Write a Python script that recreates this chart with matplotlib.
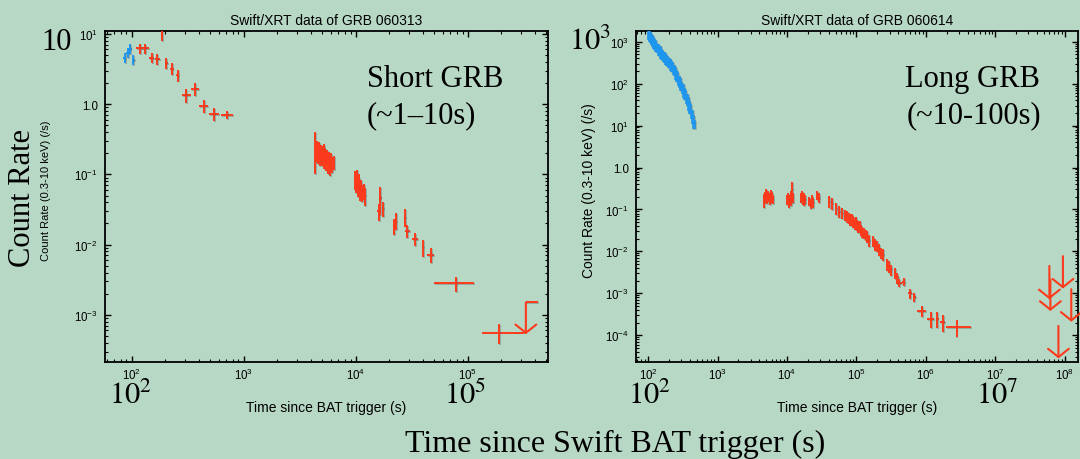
import numpy as np
import matplotlib
matplotlib.use("Agg")
import matplotlib.pyplot as plt
import matplotlib.patheffects as pe
from matplotlib.ticker import LogLocator, FuncFormatter, NullFormatter

plt.rcParams["font.family"] = ["Liberation Sans", "DejaVu Sans"]
plt.rcParams["mathtext.fontset"] = "custom"
plt.rcParams["mathtext.rm"] = "Liberation Sans"
plt.rcParams["mathtext.it"] = "Liberation Sans:italic"
plt.rcParams["mathtext.bf"] = "Liberation Sans:bold"

BG = "#b8d8c6"
RED = "#fc3a1c"
BLUE = "#1e96ee"
SERIF = ["Liberation Serif", "DejaVu Serif"]

# ---------------- GRB 060313 (short) ----------------
s_wt_t = [87, 93, 97, 104]
s_wt_terr = [3, 3, 3, 3]
s_wt_r = [4.6, 5.4, 6.1, 4.3]
s_wt_rerr = [0.8, 0.9, 1.0, 0.7]

s_pc_t = [118, 132, 151, 170, 186, 205, 229, 259, 308, 371, 442, 550, 714]
s_pc_terr = [9, 10, 7, 8, 3, 8, 8, 9, 28, 30, 40, 55, 85]
s_pc_r = [6.2, 6.2, 4.6, 4.4, 9.5, 3.9, 3.2, 2.6, 1.33, 1.65, 0.95, 0.72, 0.70]
s_pc_rerr = [1.0, 1.0, 0.8, 0.8, 1.6, 0.7, 0.6, 0.5, 0.3, 0.35, 0.2, 0.15, 0.09]

s_dense_t = [4300, 4400, 4500, 4580, 4660, 4740, 4820, 4900, 4990, 5080, 5170,
             5260, 5360, 5460, 5560, 5680, 5800, 5920, 6050, 6200, 6350,
             9800, 10000, 10200, 10400, 10600, 10800, 11000, 11250, 11500, 11800, 12100]
s_dense_terr = [50, 50, 45, 40, 40, 40, 40, 45, 45, 45, 45,
                50, 50, 50, 55, 60, 60, 60, 65, 75, 75,
                100, 100, 100, 100, 100, 100, 110, 120, 130, 150, 150]
s_dense_r = [0.25, 0.20, 0.24, 0.19, 0.22, 0.23, 0.18, 0.21, 0.17, 0.20, 0.22,
             0.16, 0.19, 0.15, 0.18, 0.14, 0.17, 0.13, 0.16, 0.14, 0.15,
             0.085, 0.075, 0.090, 0.068, 0.080, 0.072, 0.060, 0.066, 0.055, 0.058, 0.050]
s_dense_rerr = [0.15, 0.05, 0.06, 0.05, 0.06, 0.06, 0.05, 0.05, 0.04, 0.05, 0.05,
                0.04, 0.05, 0.04, 0.04, 0.04, 0.04, 0.035, 0.04, 0.035, 0.035,
                0.025, 0.02, 0.025, 0.02, 0.02, 0.02, 0.018, 0.018, 0.015, 0.015, 0.014]

s_late_t = [16000, 16600, 17500, 22000, 23000, 27500, 29000, 34000, 40000, 47000, 78000, 190000]
s_late_lo = [15600, 16200, 17100, 21500, 22500, 27000, 27300, 31800, 39000, 43500, 50000, 133000]
s_late_hi = [16400, 17000, 17900, 22500, 23500, 28000, 30800, 36200, 41000, 50500, 113000, 320000]
s_late_r = [0.030, 0.046, 0.033, 0.0185, 0.022, 0.025, 0.0158, 0.0119, 0.0091, 0.0072, 0.0028, 0.00056]
s_late_rerr = [0.008, 0.02, 0.008, 0.005, 0.006, 0.007, 0.0035, 0.0025, 0.0025, 0.0018, 0.0007, 0.00017]

s_ul_t = [3.3e5]
s_ul_thi = [4.2e5]
s_ul_top = [1.5e-3]
s_ul_tip = [5.3e-4]

# ---------------- GRB 060614 (long) ----------------
l_wt_t = [102, 106, 110, 114, 118, 122, 127, 132, 137, 142, 148, 154, 160, 167, 174,
          181, 189, 197, 205, 214, 223, 233, 243, 254, 265, 277, 289, 302, 315, 329,
          343, 358, 374, 391, 408, 426, 445, 464]
l_wt_terr = [2, 2, 2, 2, 2, 2, 3, 3, 3, 3, 3, 3, 3, 4, 4,
             4, 4, 4, 5, 5, 5, 5, 6, 6, 6, 6, 7, 7, 7, 7,
             8, 8, 8, 9, 9, 9, 10, 10]
l_wt_r = [1450, 1320, 1230, 1120, 1030, 920, 860, 750, 710, 630, 610, 530, 505, 440, 430,
          380, 365, 325, 315, 275, 255, 220, 200, 165, 150, 122, 108, 88, 77, 62,
          55, 44, 39, 30, 26, 19, 14.5, 11]
l_wt_rerr = [380, 350, 320, 290, 270, 240, 225, 195, 185, 165, 160, 140, 130, 115, 112,
             100, 95, 85, 82, 72, 66, 57, 52, 43, 39, 32, 28, 23, 20, 16,
             14, 11.5, 10, 7.8, 6.8, 5, 3.8, 2.8]

l_cl_t = [4600, 4750, 4900, 5050, 5200, 5350, 5500, 5650, 5800, 5950, 6100, 6300,
          10100, 10400, 10700, 11000, 11300, 11600, 11900, 12200,
          15800, 16300, 16800, 17300, 17800, 18400,
          21000, 22000, 23000, 24000,
          27500, 29000]
l_cl_terr = [70, 70, 70, 70, 70, 70, 70, 70, 70, 70, 80, 90,
             140, 140, 140, 140, 140, 140, 140, 140,
             230, 230, 230, 230, 250, 250,
             450, 450, 450, 450,
             600, 600]
l_cl_r = [0.17, 0.21, 0.19, 0.24, 0.18, 0.22, 0.20, 0.17, 0.23, 0.19, 0.21, 0.18,
          0.17, 0.20, 0.15, 0.18, 0.22, 0.16, 0.30, 0.19,
          0.19, 0.22, 0.17, 0.20, 0.16, 0.18,
          0.16, 0.14, 0.18, 0.15,
          0.22, 0.19]
l_cl_rerr = [0.06, 0.05, 0.05, 0.06, 0.045, 0.055, 0.05, 0.045, 0.06, 0.05, 0.05, 0.045,
             0.045, 0.05, 0.04, 0.045, 0.055, 0.04, 0.16, 0.05,
             0.05, 0.055, 0.045, 0.05, 0.04, 0.045,
             0.04, 0.035, 0.045, 0.04,
             0.055, 0.05]

l_dec_t = [3.98e4, 4.44e4, 5.07e4, 5.66e4, 6.18e4, 6.76e4, 7.4e4, 7.9e4, 8.2e4, 8.6e4,
           9.0e4, 9.4e4, 9.8e4, 1.03e5, 1.07e5, 1.12e5, 1.17e5, 1.22e5, 1.28e5, 1.37e5,
           1.43e5, 1.5e5, 1.71e5, 1.83e5, 1.95e5, 2.09e5, 2.23e5, 2.38e5, 2.72e5, 2.9e5,
           3.1e5, 3.6e5, 3.9e5, 4.1e5, 4.8e5, 5.9e5, 6.8e5]
l_dec_terr = [1400, 1500, 1800, 2000, 2200, 2400, 2600, 2800, 2900, 3000,
              3100, 3300, 3400, 3600, 3700, 3900, 4100, 4300, 4500, 4800,
              5000, 5300, 6000, 6400, 6800, 7300, 7800, 8300, 9500, 10000,
              11000, 13000, 14000, 37000, 25000, 40000, 30000]
l_dec_r = [0.158, 0.144, 0.110, 0.091, 0.083, 0.076, 0.069, 0.063, 0.058, 0.058,
           0.053, 0.048, 0.050, 0.044, 0.040, 0.040, 0.033, 0.030, 0.028, 0.025,
           0.023, 0.019, 0.0177, 0.0147, 0.0134, 0.0112, 0.0093, 0.0085, 0.0049, 0.0045,
           0.0037, 0.0031, 0.0024, 0.0018, 0.00186, 0.0010, 0.00083]
l_dec_rerr = [0.05, 0.045, 0.035, 0.028, 0.025, 0.023, 0.021, 0.019, 0.018, 0.018,
              0.016, 0.015, 0.015, 0.013, 0.012, 0.012, 0.010, 0.009, 0.0085, 0.0075,
              0.007, 0.006, 0.0053, 0.0045, 0.004, 0.0034, 0.0028, 0.0026, 0.0015, 0.0014,
              0.0011, 0.0009, 0.0007, 0.0004, 0.0004, 0.00025, 0.0002]

l_late_t = [8.7e5, 1.17e6, 1.45e6, 1.74e6, 2.76e6]
l_late_lo = [7.4e5, 1.05e6, 1.38e6, 1.6e6, 1.95e6]
l_late_hi = [1.02e6, 1.3e6, 1.52e6, 1.9e6, 4.4e6]
l_late_r = [3.8e-4, 2.5e-4, 2.5e-4, 2.1e-4, 1.6e-4]
l_late_rerr = [1.1e-4, 1.0e-4, 1.0e-4, 0.9e-4, 0.7e-4]

l_ul_t = [6.0e7, 6.2e7, 8.1e7, 9.4e7, 1.24e8]
l_ul_top = [4.5e-3, 2.1e-3, 1.67e-4, 7.7e-3, 1.25e-3]
l_ul_tip = [7.2e-4, 3.8e-4, 2.8e-5, 1.3e-3, 2.1e-4]

SHADOW = [pe.SimpleLineShadow(offset=(0.7, -0.7), shadow_color="0.35", alpha=0.35),
          pe.Normal()]


def ebar(ax, t, r, terr, rerr, color, lw=1.4):
    cont = ax.errorbar(t, r, xerr=terr, yerr=rerr, fmt="none", ecolor=color,
                       elinewidth=lw, capsize=0, zorder=3)
    for coll in cont.lines[2]:
        coll.set_path_effects(SHADOW)


def ebar_range(ax, t, lo, hi, r, rerr, color, lw=1.4):
    t = np.array(t)
    xerr = [t - np.array(lo), np.array(hi) - t]
    ebar(ax, t, r, xerr, rerr, color, lw)


def upper_limits(ax, t, top, tip, color):
    for x, y0, y1 in zip(t, top, tip):
        ax.annotate("", xy=(x, y1), xytext=(x, y0), annotation_clip=False,
                    arrowprops=dict(arrowstyle="->,head_length=0.6,head_width=0.75",
                                    color=color, lw=1.5, shrinkA=0, shrinkB=0,
                                    mutation_scale=10))


def pow_fmt(v, pos):
    n = int(round(np.log10(v)))
    if n == 0:
        return "1.0"
    return r"$10^{%d}$" % n


def style(ax, xlim, ylim, title, ylab_size, ylab_x):
    ax.set_facecolor(BG)
    ax.set_xscale("log")
    ax.set_yscale("log")
    ax.set_xlim(*xlim)
    ax.set_ylim(*ylim)
    for a in (ax.xaxis, ax.yaxis):
        a.set_major_locator(LogLocator(base=10, numticks=30))
        a.set_minor_locator(LogLocator(base=10, subs=np.arange(2, 10), numticks=300))
        a.set_major_formatter(FuncFormatter(pow_fmt))
        a.set_minor_formatter(NullFormatter())
    ax.tick_params(which="both", direction="in", top=True, right=True,
                   labelsize=8.3, colors="black")
    ax.tick_params(which="major", length=4.5, width=1.0)
    ax.tick_params(which="minor", length=2.5, width=0.8)
    ax.tick_params(axis="x", pad=3.5)
    ax.tick_params(axis="y", pad=5)
    for sp in ax.spines.values():
        sp.set_linewidth(1.3)
    ax.set_title(title, fontsize=10, pad=5)
    ax.set_xlabel("Time since BAT trigger (s)", fontsize=10)
    ax.xaxis.set_label_coords(0.5, -0.115)
    ax.set_ylabel("Count Rate (0.3-10 keV) (/s)", fontsize=ylab_size)
    ax.yaxis.set_label_coords(ylab_x, 0.52)


W, H = 1080, 460
fig = plt.figure(figsize=(W / 100, H / 100), dpi=100, facecolor=BG)

ax1 = fig.add_axes([105 / W, 1 - 363 / H, 443 / W, 331 / H])
ax2 = fig.add_axes([636 / W, 1 - 363 / H, 442 / W, 331 / H])

# short GRB
ebar(ax1, s_wt_t, s_wt_r, s_wt_terr, s_wt_rerr, BLUE)
ebar(ax1, s_pc_t, s_pc_r, s_pc_terr, s_pc_rerr, RED)
ebar(ax1, s_dense_t, s_dense_r, s_dense_terr, s_dense_rerr, RED)
ebar_range(ax1, s_late_t, s_late_lo, s_late_hi, s_late_r, s_late_rerr, RED)
ebar_range(ax1, s_ul_t, s_ul_t, s_ul_thi, s_ul_top, [0], RED)
upper_limits(ax1, s_ul_t, s_ul_top, s_ul_tip, RED)
style(ax1, (58, 5.2e5), (2.13e-4, 11.0), "Swift/XRT data of GRB 060313", 8, -0.122)

# long GRB
ebar(ax2, l_wt_t, l_wt_r, l_wt_terr, l_wt_rerr, BLUE, lw=2.6)
ebar(ax2, l_cl_t, l_cl_r, l_cl_terr, l_cl_rerr, RED)
ebar(ax2, l_dec_t, l_dec_r, l_dec_terr, l_dec_rerr, RED)
ebar_range(ax2, l_late_t, l_late_lo, l_late_hi, l_late_r, l_late_rerr, RED)
upper_limits(ax2, l_ul_t, l_ul_top, l_ul_tip, RED)
style(ax2, (67, 1.55e8), (2.3e-5, 1.8e3), "Swift/XRT data of GRB 060614", 10, -0.09)


def px(x, y):
    return x / W, 1 - y / H


big = dict(fontfamily=SERIF, fontsize=22, color="black", math_fontfamily="stix")
fig.text(*px(41, 50), "10", ha="left", va="baseline", **big)
fig.text(*px(569, 50), r"$10^3$", ha="left", va="baseline", **big)
fig.text(*px(131, 404), r"$10^2$", ha="center", va="baseline", **big)
fig.text(*px(465, 404), r"$10^5$", ha="center", va="baseline", **big)
fig.text(*px(650, 404), r"$10^2$", ha="center", va="baseline", **big)
fig.text(*px(997, 404), r"$10^7$", ha="center", va="baseline", **big)
fig.text(*px(23, 198), "Count Rate", rotation=90, ha="center", va="center", **big)
fig.text(*px(615, 452), "Time since Swift BAT trigger (s)", ha="center", va="baseline",
         fontfamily=SERIF, fontsize=23, color="black")
fig.text(*px(367, 87), "Short GRB", ha="left", va="baseline", **big)
fig.text(*px(367, 123), "(~1\u201310s)", ha="left", va="baseline", **big)
fig.text(*px(905, 87), "Long GRB", ha="left", va="baseline", **big)
fig.text(*px(907, 123), "(~10-100s)", ha="left", va="baseline", **big)

fig.savefig("out.png", dpi=100, facecolor=BG)
